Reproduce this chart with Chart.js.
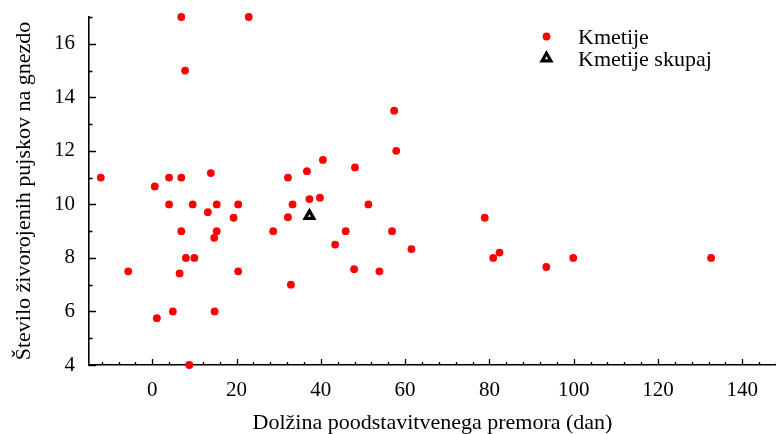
<!DOCTYPE html>
<html>
<head>
<meta charset="utf-8">
<script src="https://cdn.jsdelivr.net/npm/chart.js@4/dist/chart.umd.min.js"></script>
<style>
  html, body { margin: 0; padding: 0; background: #ffffff; }
  #wrap { width: 776px; height: 434px; }
</style>
</head>
<body>
<div id="wrap"><canvas id="c" width="776" height="434"></canvas></div>
<script>
// Farms: length of the weaning-to-service interval (days) and live-born piglets per litter
const farmDays = [
  -12.2, -5.7, 0.6, 1.1, 4.0, 4.0, 4.9, 6.9, 6.9, 6.9,
  6.5, 7.8, 8.0, 8.8, 9.6, 10.0, 13.2, 13.9, 14.7, 15.3,
  15.3, 14.8, 19.3, 20.4, 20.4, 22.9, 28.7, 32.2, 32.2, 33.3,
  32.9, 36.7, 37.3, 39.8, 40.5, 43.4, 45.9, 47.9, 48.1, 51.3,
  53.9, 56.9, 57.4, 57.9, 61.5, 78.9, 80.9, 82.4, 93.5, 99.9,
  132.6
];
const farmLitter = [
  11.0, 7.5, 10.67, 5.75, 11.0, 10.0, 6.0, 17.0, 11.0, 9.0,
  7.42, 15.0, 8.0, 4.0, 10.0, 8.0, 9.71, 11.17, 8.75, 10.0,
  9.0, 6.0, 9.5, 10.0, 7.5, 17.0, 9.0, 11.0, 9.52, 10.0,
  7.0, 11.24, 10.2, 10.25, 11.66, 8.5, 9.0, 7.58, 11.38, 10.0,
  7.5, 9.0, 13.5, 12.0, 8.33, 9.5, 8.0, 8.2, 7.66, 8.0,
  8.0
];
// All farms pooled
const pooledDays = [37.3];
const pooledLitter = [9.57];

const seriesNames = ['Kmetije', 'Kmetije skupaj'];
const xMajorTicks = [0, 20, 40, 60, 80, 100, 120, 140];
const yMajorTicks = [4, 6, 8, 10, 12, 14, 16];
const xMinorStep = 4;
const yMinorStep = 1;

const SERIF = "'Liberation Serif', 'Times New Roman', serif";
const INK = '#000000';
const RED = '#ff0000';

// Axes keep a fixed size and ask for no extra room around the plot
function fixAxis(size) {
  return function (s) {
    if (s.isHorizontal()) s.height = size; else s.width = size;
    s.paddingTop = 0;
    s.paddingBottom = 0;
    s.paddingLeft = 0;
    s.paddingRight = 0;
  };
}

// Short tick marks pointing into the plot area, longer on labelled values
const inwardTicks = {
  id: 'inwardTicks',
  beforeDatasetsDraw(chart) {
    const { ctx, chartArea, scales } = chart;
    const xs = scales.x, ys = scales.y;
    ctx.save();
    ctx.strokeStyle = '#000';
    ctx.lineWidth = 1.3;
    ctx.beginPath();
    const x0 = Math.ceil(xs.min / xMinorStep) * xMinorStep;
    for (let v = x0; v <= xs.max; v += xMinorStep) {
      const px = Math.round(xs.getPixelForValue(v)) + 0.5;
      const len = xMajorTicks.includes(v) ? 6 : 3;
      ctx.moveTo(px, chartArea.bottom);
      ctx.lineTo(px, chartArea.bottom - len);
    }
    const y0 = Math.ceil(ys.min / yMinorStep) * yMinorStep;
    for (let v = y0; v <= ys.max; v += yMinorStep) {
      const py = Math.round(ys.getPixelForValue(v)) + 0.5;
      const len = yMajorTicks.includes(v) ? 7 : 3.5;
      ctx.moveTo(chartArea.left, py);
      ctx.lineTo(chartArea.left + len, py);
    }
    ctx.stroke();
    ctx.restore();
  }
};

// Legend in the upper right of the plot
const cornerLegend = {
  id: 'cornerLegend',
  afterDraw(chart) {
    const { ctx } = chart;
    const mx = 546.5, tx = 578;
    const rows = [36.5, 58.3];
    const ds0 = chart.data.datasets[0], ds1 = chart.data.datasets[1];
    ctx.save();
    ctx.fillStyle = ds0.backgroundColor;
    ctx.beginPath();
    ctx.arc(mx, rows[0], ds0.pointRadius, 0, Math.PI * 2);
    ctx.fill();
    const r = ds1.pointRadius;
    ctx.beginPath();
    for (let k = 0; k < 3; k++) {
      const a = k * 2 * Math.PI / 3;
      const px = mx + Math.sin(a) * r, py = rows[1] - Math.cos(a) * r;
      if (k === 0) ctx.moveTo(px, py); else ctx.lineTo(px, py);
    }
    ctx.closePath();
    ctx.fillStyle = ds1.backgroundColor;
    ctx.fill();
    ctx.lineWidth = ds1.borderWidth;
    ctx.strokeStyle = ds1.borderColor;
    ctx.stroke();
    ctx.fillStyle = INK;
    ctx.font = '22px ' + SERIF;
    ctx.textAlign = 'left';
    ctx.textBaseline = 'alphabetic';
    ctx.fillText(seriesNames[0], tx, rows[0] + 7.3);
    ctx.fillText(seriesNames[1], tx, rows[1] + 7.3);
    ctx.restore();
  }
};

const farmPoints = farmDays.map((d, i) => ({ x: d, y: farmLitter[i] }));
const pooledPoints = pooledDays.map((d, i) => ({ x: d, y: pooledLitter[i] }));

new Chart(document.getElementById('c'), {
  type: 'scatter',
  data: {
    datasets: [
      {
        label: seriesNames[0],
        data: farmPoints,
        pointStyle: 'circle',
        pointRadius: 3.9,
        pointHoverRadius: 3.9,
        backgroundColor: RED,
        borderColor: RED,
        borderWidth: 0,
        clip: false
      },
      {
        label: seriesNames[1],
        data: pooledPoints,
        pointStyle: 'triangle',
        pointRadius: 5,
        pointHoverRadius: 5,
        backgroundColor: '#ffffff',
        borderColor: '#000000',
        borderWidth: 3.2,
        clip: false
      }
    ]
  },
  options: {
    responsive: false,
    devicePixelRatio: 1,
    animation: false,
    events: [],
    layout: { autoPadding: false, padding: { top: 17, right: 0, bottom: 0, left: 0 } },
    plugins: {
      legend: { display: false },
      tooltip: { enabled: false }
    },
    scales: {
      x: {
        type: 'linear',
        min: -15,
        max: 148,
        afterFit: fixAxis(69),
        afterBuildTicks(s) { s.ticks = xMajorTicks.map(v => ({ value: v })); },
        grid: { display: false, drawTicks: false },
        border: { display: true, color: '#000', width: 1.6 },
        ticks: { padding: 13, color: INK, maxRotation: 0, font: { family: SERIF, size: 21 } },
        title: {
          display: true,
          text: 'Dolžina poodstavitvenega premora (dan)',
          color: INK,
          padding: 0,
          font: { family: SERIF, size: 22, lineHeight: 1 }
        }
      },
      y: {
        type: 'linear',
        min: 4,
        max: 17,
        afterFit: fixAxis(89),
        afterBuildTicks(s) { s.ticks = yMajorTicks.map(v => ({ value: v })); },
        grid: { display: false, drawTicks: false },
        border: { display: true, color: '#000', width: 1.6 },
        ticks: { padding: 14, color: INK, font: { family: SERIF, size: 21 } },
        title: {
          display: true,
          text: 'Število živorojenih pujskov na gnezdo',
          color: INK,
          padding: { top: 13, bottom: 0 },
          font: { family: SERIF, size: 22, lineHeight: 1 }
        }
      }
    }
  },
  plugins: [inwardTicks, cornerLegend]
});
</script>
</body>
</html>
